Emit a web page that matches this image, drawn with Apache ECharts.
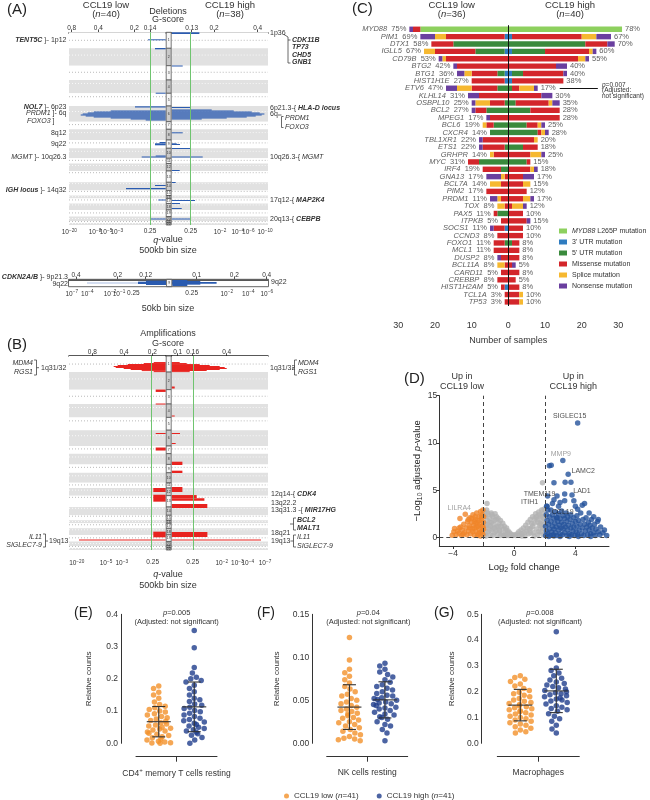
<!DOCTYPE html>
<html>
<head>
<meta charset="utf-8">
<title>CCL19 figure</title>
<script src="https://cdn.jsdelivr.net/npm/echarts@6.0.0/dist/echarts.min.js"></script>
<style>
html,body{margin:0;padding:0;background:#fff;}
#chart{width:650px;height:800px;}
</style>
</head>
<body>
<div id="chart"></div>
<script>
// ======================= DATA =======================
// ---- Panels A/B: genome layout in 500kb bins ----
const chromBins = [160,174,143,133,127,157,76,107,83,100,52,75,113,82,50,30,50,65,65,45,20,20];
const centroFrac = [0.50,0.39,0.46,0.26,0.27,0.35,0.38,0.31,0.35,0.30,0.40,0.27,0.15,0.16,0.18,0.40,0.29,0.22,0.45,0.44,0.27,0.29];

// Deletions (A): [bin start, bin end, score]
const delLow = [[70,80,17.7],[157,170,10.7],[604,614,10],[740,752,30.7],
  [782,792,55],[792,802,72],[802,812,78],[812,822,83],[822,832,85],[832,842,80],[842,852,72],[852,862,55],[862,872,35],[872,882,20],
  [1097,1107,6],[1110,1130,10.7],[1232,1242,10],[1242,1252,24],[1527,1537,10.7],[1557,1570,39.7],[1672,1682,7.4],[1862,1872,15.7]];
const delHigh = [[0,17,27.7],[332,342,11],[747,757,19],
  [772,782,40],[782,792,62],[792,802,80],[802,812,88],[812,822,92.7],[822,832,90],[832,842,84],[842,852,75],[852,862,55],[862,872,30],
  [1000,1010,11],[1110,1120,5],[1117,1127,8.3],[1157,1167,18.5],[1242,1252,31],[1377,1387,8],[1497,1507,4],
  [1677,1687,23.3],[1707,1717,8.3],[1757,1767,10],[1862,1872,18.3]];
// 50kb CDKN2A/B sub panel
const cdknLow = [[4,17,20],[7,14,28]];
const cdknLowFaint = [[9.5,12.5,79]];
const cdknHigh = [[2,20,15],[5,16,28],[8,13,44.3]];
// Amplifications (B)
const ampLow = [[60,70,12],[70,80,22],[80,90,38],[90,100,48],[100,110,52],[110,120,50],[120,130,42],[130,140,35],[140,150,24],[150,160,12],
  [333,357,10],[472,482,10],[765,775,10],[909,939,10],[1311,1351,12.4],[1378,1447,12.4],[1745,1801,12.4],[1823,1833,86.7]];
const ampHigh = [[60,70,8],[70,80,15],[80,90,28],[90,100,38],[100,110,48],[110,120,53],[120,130,55],[130,140,48],[140,150,35],[150,160,18],
  [303,323,3],[591,601,3],[765,775,8.3],[864,874,4],[1050,1083,10.7],[1139,1162,10.7],[1301,1351,10.7],
  [1381,1413,25],[1413,1437,32.7],[1470,1510,35.6],[1748,1798,35.7],[1823,1833,89.3]];

// Tick labels [position, label]
const aTopLow = [[94,'0.8'],[67.4,'0.4'],[31.4,'0.2'],[15.7,'0.14']];
const aTopHigh = [[20,'0.13'],[42.3,'0.2'],[86,'0.4']];
const aBotLow = [[96.4,'10^-20'],[70.7,'10^-8'],[59.7,'10^-5'],[49,'10^-3'],[15.7,'0.25']];
const aBotHigh = [[19,'0.25'],[48.3,'10^-2'],[66,'10^-4'],[76.6,'10^-6'],[93.3,'10^-10']];
const sTopLow = [[90,'0.4'],[48.3,'0.2'],[20.3,'0.12']];
const sTopHigh = [[24.4,'0.1'],[62,'0.2'],[94.4,'0.4']];
const sBotLow = [[94.3,'10^-7'],[78.7,'10^-4'],[56,'10^-2'],[47,'10^-1'],[32.7,'0.25']];
const sBotHigh = [[19.4,'0.25'],[54.4,'10^-2'],[76,'10^-4'],[94.4,'10^-6']];
const bTopLow = [[73.4,'0.8'],[41.7,'0.4'],[13.4,'0.2']];
const bTopHigh = [[6,'0.1'],[21,'0.16'],[55,'0.4']];
const bBotLow = [[89,'10^-20'],[76.7,'10^-8'],[59.7,'10^-5'],[44,'10^-3'],[13,'0.25']];
const bBotHigh = [[21,'0.25'],[50,'10^-2'],[65.6,'10^-3'],[76,'10^-4'],[93.3,'10^-7']];
const qThresh = {aLow:15, aHigh:19, bLow:14, bHigh:21.6};

// ---- Panel C: mutations ----
const cGenes = ['MYD88','PIM1','DTX1','IGLL5','CD79B','BTG2','BTG1','HIST1H1E','ETV6','KLHL14','OSBPL10','BCL2','MPEG1','BCL6','CXCR4','TBL1XR1','ETS1','GRHPR','MYC','IRF4','GNA13','BCL7A','PIM2','PRDM1','TOX','PAX5','ITPKB','SOCS1','CCND3','FOXO1','MCL1','DUSP2','BCL11A','CARD11','CREBBP','HIST1H2AM','TCL1A','TP53'];
const lowPct  = [75,69,58,67,53,42,36,27,47,31,25,27,17,19,14,22,22,14,31,19,17,14,17,11,8,11,5,11,8,11,11,8,8,5,8,5,3,3];
const highPct = [78,67,70,60,55,40,40,38,17,30,35,28,28,25,28,20,18,25,15,18,17,15,12,17,12,10,15,10,10,8,8,8,5,8,5,8,10,10];
const lowL265P    = [24,0,0,0,0,0,0,0,0,0,0,0,0,0,0,0,0,0,0,0,0,0,0,0,0,0,0,0,0,0,0,0,0,0,0,0,0,0];
const low3UTR     = [0,1,0,1,0,0,1,1,0,0,0,0,0,0,0,0,0,0,0,0,0,0,0,0,0,0,0,1,0,0,0,0,0,0,0,1,0,0];
const low5UTR     = [0,0,15,8,0,0,2,0,3,0,1,6,0,4,5,0,1,0,8,2,0,0,0,0,0,3,0,0,0,1,0,0,0,0,0,0,0,0];
const lowMissense = [2,16,6,11,17,14,7,9,7,8,4,3,5,2,0,7,6,4,3,5,1,2,6,2,1,1,2,3,3,3,4,2,1,2,3,1,1,1];
const lowSplice   = [0,3,0,3,1,0,2,0,4,0,4,0,0,1,0,0,0,1,0,0,1,3,0,1,2,0,0,0,0,0,0,0,2,0,0,0,0,0];
const lowNonsense = [1,4,0,0,1,1,2,0,3,3,1,1,1,0,0,1,1,0,0,0,4,0,0,2,0,0,0,1,0,0,0,1,0,0,0,0,0,0];
const highL265P    = [31,0,0,0,0,0,0,0,0,0,0,0,0,0,0,0,0,0,0,0,0,0,0,0,0,0,0,0,0,0,0,0,0,0,0,0,0,0];
const high3UTR     = [0,1,0,1,0,0,1,1,0,0,0,0,0,0,0,0,0,0,0,0,0,0,0,0,0,0,0,0,0,0,0,0,0,0,0,0,0,0];
const high5UTR     = [0,0,21,9,0,0,3,0,1,0,2,6,0,5,8,0,4,0,5,0,0,0,0,0,0,0,0,0,0,1,0,0,0,0,0,0,0,0];
const highMissense = [0,19,6,12,19,13,11,14,2,9,9,8,14,3,1,7,4,6,1,6,4,4,5,4,1,4,5,4,4,2,3,3,1,3,2,3,3,3];
const highSplice   = [0,4,0,1,2,0,0,0,4,0,1,0,0,1,1,1,0,3,0,1,0,2,0,2,3,0,0,0,0,0,0,0,0,0,0,0,1,1];
const highNonsense = [0,4,2,1,1,3,1,0,1,3,2,0,0,1,1,0,0,1,0,1,3,0,0,1,1,0,1,0,0,0,0,0,1,0,0,0,0,0];
const mutTypes = ['MYD88 L265P mutation',"3' UTR mutation","5' UTR mutation",'Missense mutation','Splice mutation','Nonsense mutation'];
const pAnnotGene = 'ETV6';

// ---- Panel D: volcano (log2 FC, -log10 adj p) ----
const volcLow = [[-4.05,0.25],[-3.95,0.6],[-3.9,0.95],[-3.8,0.3],[-3.7,0.7],[-3.6,0.45],[-3.6,1.0],[-3.55,2.0],[-3.5,1.1],[-3.45,0.2],[-3.4,0.8],[-3.35,0.35],[-3.3,1.4],[-3.25,0.5],[-3.2,2.45],[-3.15,1.0],[-3.1,0.3],[-3.05,1.7],[-3.0,0.7],[-3.0,1.9],[-2.95,1.25],[-2.9,2.1],[-2.9,1.0],[-2.85,0.4],[-2.8,1.6],[-2.8,2.0],[-2.75,0.9],[-2.7,2.4],[-2.7,0.6],[-2.65,1.3],[-2.6,0.25],[-2.6,1.0],[-2.6,1.7],[-2.55,1.9],[-2.55,2.2],[-2.5,0.65],[-2.5,1.5],[-2.45,2.6],[-2.45,1.1],[-2.4,1.6],[-2.4,0.2],[-2.35,0.4],[-2.35,1.2],[-2.3,2.2],[-2.3,0.9],[-2.3,1.8],[-2.25,1.4],[-2.25,0.5],[-2.2,2.75],[-2.2,0.15],[-2.15,1.9],[-2.15,0.6],[-2.15,2.2],[-2.1,2.4],[-2.1,1.2],[-2.1,0.7],[-2.05,2.9],[-2.05,0.35],[-2.05,1.2],[-2.02,1.6],[-2.0,2.2],[-2.0,0.9]];
const volcMid = [[-1.95,2.7],[-1.95,1.5],[-1.9,0.4],[-1.9,2.2],[-1.85,1.0],[-1.8,2.9],[-1.78,3.6],[-1.75,1.8],[-1.7,0.6],[-1.7,2.4],[-1.65,1.3],[-1.6,2.0],[-1.55,0.3],[-1.5,2.6],[-1.5,1.6],[-1.45,0.9],[-1.4,2.2],[-1.35,1.4],[-1.3,0.5],[-1.25,2.5],[-1.2,1.9],[-1.15,1.1],[-1.1,0.3],[-1.05,2.0],[-1.0,1.5],[-0.95,0.7],[-0.9,1.8],[-0.85,1.2],[-0.8,0.4],[-0.75,1.5],[-0.7,0.9],[-0.65,1.2],[-0.6,0.3],[-0.55,0.8],[-0.5,1.0],[-0.45,0.5],[-0.4,0.7],[-0.35,0.2],[-0.3,0.5],[-0.2,0.35],[-0.1,0.2],[0.0,0.3],[0.1,0.2],[0.2,0.4],[0.3,0.6],[0.35,0.25],[0.45,0.8],[0.5,0.4],[0.6,1.0],[0.65,0.5],[0.75,1.3],[0.8,0.7],[0.9,1.6],[0.95,0.4],[1.05,1.9],[1.1,1.0],[1.2,2.2],[1.25,0.5],[1.3,1.5],[1.4,2.5],[1.45,0.9],[1.5,1.9],[1.55,0.3],[1.6,2.7],[1.65,1.3],[1.7,2.2],[1.75,0.6],[1.8,2.9],[1.8,1.7],[1.85,5.8],[1.85,1.0],[1.9,2.5],[1.9,0.3],[1.95,2.0],[1.95,3.0],[-1.6,0.8],[-1.3,1.0],[-1.0,0.8],[1.0,0.9],[1.35,2.0],[1.7,1.5],
  [-1.85,0.15],[-1.75,2.6],[-1.6,1.6],[-1.45,2.4],[-1.4,0.2],[-1.2,0.7],[-1.15,2.2],[-0.9,0.2],[-0.7,0.2],[-0.5,0.2],[0.5,0.15],[0.7,0.15],[0.85,1.0],[1.15,1.5],[1.3,0.15],[1.45,2.2],[1.55,1.6],[1.65,2.4],[1.75,1.1],[1.85,2.2],[1.6,0.6],[-1.8,1.3],[-1.55,1.2],[-1.05,1.2],[-1.3,1.8],[1.95,1.4],[1.05,0.5],[1.2,1.2]];
const volcHigh = [[2.05,0.2],[2.05,1.2],[2.1,2.4],[2.1,0.7],[2.15,1.8],[2.15,3.3],[2.2,0.4],[2.2,2.9],[2.25,1.4],[2.3,0.9],[2.3,2.2],[2.35,0.2],[2.4,1.7],[2.4,2.9],[2.45,0.6],[2.5,1.2],[2.5,2.4],[2.55,0.3],[2.6,2.0],[2.6,0.9],[2.65,1.5],[2.7,2.7],[2.7,0.5],[2.75,1.1],[2.8,2.1],[2.8,0.2],[2.85,1.7],[2.9,0.8],[2.9,2.5],[2.95,1.3],[3.0,0.4],[3.0,2.0],[3.05,1.0],[3.1,2.8],[3.1,1.6],[3.15,0.3],[3.2,2.3],[3.2,0.9],[3.25,1.4],[3.3,0.5],[3.3,2.0],[3.35,1.1],[3.4,2.6],[3.45,0.2],[3.45,1.7],[3.5,0.8],[3.5,2.2],[3.55,1.3],[3.6,0.4],[3.65,1.9],[3.7,1.0],[3.7,2.4],[3.75,0.3],[3.8,1.5],[3.85,0.7],[3.9,2.1],[3.9,1.1],[3.95,0.2],[4.0,1.7],[4.05,0.6],[4.1,2.3],[4.1,1.2],[4.15,0.3],[4.2,1.8],[4.25,0.8],[4.3,1.4],[4.35,2.6],[4.4,0.4],[4.45,1.0],[4.5,1.9],[4.55,0.2],[4.6,1.4],[4.65,0.7],[4.7,2.1],[4.75,1.1],[4.8,0.3],[4.85,1.6],[4.9,0.8],[4.95,1.3],[5.0,0.4],[5.05,1.9],[5.1,1.0],[5.2,0.5],[5.25,1.4],[5.3,0.2],[5.35,0.9],[5.45,1.7],[5.5,0.6],[5.6,0.3],[5.65,1.1],[5.8,0.5],[5.9,0.8],[6.05,0.2],
  [4.15,12.1],[3.18,8.15],[2.3,7.6],[2.42,7.65],[3.53,6.7],[2.6,5.8],[3.33,5.85],[3.71,5.85],[3.78,4.5],[3.3,4.6],[3.3,3.9],[3.0,3.7],[2.8,4.4],[2.6,4.0],[2.18,4.4],[2.12,3.3],[2.78,2.1],[4.45,3.4],[4.15,3.0],[4.0,3.3],[4.6,3.6],[4.9,2.6],[5.2,2.2],[5.5,1.9],[3.9,3.9],[2.5,3.6],[2.9,3.3],[2.25,0.1],[2.6,0.15],[3.0,0.1],[3.6,0.1],[4.2,0.1],[5.0,0.1]];
const volcLabelGenes = ['SIGLEC15','MMP9','LAMC2','LAD1','TMEM119','ITIH1','CCL19','LILRA4'];
const volcLabelX = [4.15,3.18,3.53,3.78,2.18,2.12,2.78,-3.2];
const volcLabelY = [12.1,8.15,6.7,4.5,4.4,3.3,2.1,2.45];

// ---- Panels E/F/G: relative counts ----
const cellTypes = ['CD4{sup|+} memory T cells resting','NK cells resting','Macrophages'];
const pTexts = ['0.005','0.04','0.008'];
const eLow = [0.178,0.170,0.158,0.150,0.140,0.128,0.120,0.115,0.110,0.105,0.100,0.097,0.092,0.088,0.083,0.079,0.075,0.071,0.068,0.064,0.060,0.057,0.054,0.050,0.047,0.044,0.041,0.038,0.035,0.031,0.028,0.024,0.020,0.017,0.013,0.010,0.006,0.004,0.002,0.001,0.000];
const eHigh = [0.350,0.296,0.235,0.218,0.205,0.200,0.195,0.190,0.180,0.170,0.160,0.150,0.140,0.135,0.130,0.122,0.118,0.112,0.108,0.102,0.098,0.093,0.088,0.083,0.078,0.074,0.070,0.066,0.062,0.058,0.054,0.050,0.046,0.042,0.038,0.034,0.030,0.025,0.018,0.010,0.000];
const fLow = [0.123,0.097,0.086,0.082,0.078,0.074,0.070,0.066,0.063,0.060,0.057,0.055,0.052,0.050,0.048,0.046,0.044,0.042,0.040,0.038,0.037,0.035,0.034,0.032,0.030,0.029,0.027,0.025,0.024,0.022,0.020,0.018,0.016,0.014,0.012,0.010,0.008,0.006,0.005,0.004,0.003];
const fHigh = [0.093,0.090,0.086,0.083,0.080,0.077,0.074,0.071,0.068,0.066,0.064,0.062,0.060,0.058,0.056,0.055,0.053,0.052,0.051,0.050,0.048,0.047,0.046,0.045,0.044,0.042,0.041,0.040,0.038,0.036,0.034,0.033,0.031,0.030,0.028,0.025,0.022,0.020,0.016,0.012,0.003];
const gLow = [0.262,0.255,0.248,0.240,0.230,0.222,0.212,0.205,0.198,0.192,0.186,0.180,0.174,0.168,0.163,0.158,0.154,0.150,0.146,0.142,0.138,0.134,0.130,0.126,0.122,0.118,0.114,0.110,0.105,0.100,0.095,0.090,0.085,0.080,0.075,0.070,0.064,0.058,0.052,0.045,0.040];
const gHigh = [0.432,0.342,0.332,0.322,0.292,0.282,0.272,0.262,0.252,0.245,0.238,0.232,0.226,0.220,0.215,0.210,0.205,0.200,0.196,0.192,0.188,0.184,0.180,0.176,0.172,0.168,0.164,0.158,0.152,0.146,0.140,0.135,0.130,0.124,0.115,0.105,0.095,0.085,0.070,0.055,0.040];
const meanLow = [0.067,0.0421,0.148], sdLow = [0.047,0.026,0.061];
const meanHigh = [0.113,0.0505,0.203], sdHigh = [0.077,0.021,0.084];
const yMaxes = [0.4,0.15,0.5], yIntervals = [0.1,0.05,0.1];
const groupNames = ['CCL19 low (n=41)','CCL19 high (n=41)'];

// ======================= BUILD =======================
const FONT = '"Liberation Sans", Arial, Helvetica, sans-serif';
const ORANGE = '#f3912b', NAVY = '#1f3d8c';
const CLEAR = 'rgba(0,0,0,0)';
const mutColors = ['#8dd05e','#2f7cc0','#3a8a3c','#d3262b','#f6b830','#6a3f9f'];

function richL(fs, color) {
  color = color || '#333';
  return {
    i: {fontStyle:'italic', fontSize:fs, color:color, fontFamily:FONT},
    b: {fontStyle:'italic', fontWeight:'bold', fontSize:fs, color:color, fontFamily:FONT},
    sup: {fontSize:fs*0.72, color:color, fontFamily:FONT, padding:[0,0,fs*0.6,0]},
    s: {fontSize:fs*0.72, color:color, fontFamily:FONT, padding:[fs*0.6,0,0,0]}
  };
}
function richG(fs, color) {
  color = color || '#333';
  return {
    i: {fontStyle:'italic', fontSize:fs, fill:color, color:color, fontFamily:FONT},
    b: {fontStyle:'italic', fontWeight:'bold', fontSize:fs, fill:color, color:color, fontFamily:FONT},
    sup: {fontSize:fs*0.72, fill:color, color:color, fontFamily:FONT, padding:[0,0,fs*0.6,0]},
    s: {fontSize:fs*0.72, fill:color, color:color, fontFamily:FONT, padding:[fs*0.6,0,0,0]}
  };
}
const graphics = [];
function T(x, y, text, o) {
  o = o || {};
  const fs = o.fs || 7, color = o.color || '#333';
  graphics.push({type:'text', x:x, y:y, silent:true, z:100,
    style:{text:text, fontFamily:FONT, fontSize:fs, fill:color, align:o.align||'left', verticalAlign:'middle', fontWeight:o.fw||'normal', rich:richG(fs,color)}});
}
function P(points, o) {
  o = o || {};
  graphics.push({type:'polyline', silent:true, z:100, shape:{points:points}, style:{stroke:o.color||'#444', lineWidth:o.w||0.8, fill:null}});
}

const grids = [], xAxes = [], yAxes = [], series = [];
function addGrid(g){ g.containLabel = false; g.outerBoundsMode = 'none'; grids.push(g); return grids.length-1; }
function addX(a){ xAxes.push(a); return xAxes.length-1; }
function addY(a){ yAxes.push(a); return yAxes.length-1; }

function fmtTick(s){ const m = s.match(/^10\^(.+)$/); return m ? '10{sup|' + m[1].replace('-','\u2212') + '}' : s; }
function tickAxis(gi, pos, maxU, inv, ticks, showLine, margin, fs) {
  const vals = ticks.map(t=>t[0]);
  return {type:'value', gridIndex:gi, position:pos, min:0, max:maxU, inverse:inv,
    axisLine:{show:showLine, onZero:false, lineStyle:{color:'#222', width:1.5}},
    axisTick:{show:showLine, customValues:vals, length:2.5, lineStyle:{color:'#222', width:0.8}},
    axisLabel:{show:true, customValues:vals, margin:margin, fontSize:fs, color:'#333', fontFamily:FONT, rich:richL(fs,'#333'),
      showMinLabel:true, showMaxLabel:true,
      formatter:function(v){ const t = ticks.find(tt=>Math.abs(tt[0]-v)<1e-6); return t ? fmtTick(t[1]) : ''; }},
    splitLine:{show:false}};
}
function bandItem(params, api) {
  const cs = params.coordSys;
  const s = api.value(0), e = api.value(1), idx = api.value(2), cf = api.value(3);
  const y0 = api.coord([0, s])[1], y1 = api.coord([0, e])[1];
  const yc = api.coord([0, s + (e-s)*cf])[1];
  const odd = idx % 2 === 1;
  return {type:'group', children:[
    {type:'rect', shape:{x:cs.x, y:y0, width:cs.width, height:y1-y0}, style:{fill: odd ? '#e1e1e1' : '#ffffff'}},
    {type:'line', shape:{x1:cs.x, y1:yc, x2:cs.x+cs.width, y2:yc}, style:{stroke: odd ? '#ffffff' : '#a8a8a8', lineWidth:0.8, lineDash:[1,2]}}
  ]};
}
function centerItem(params, api) {
  const cs = params.coordSys;
  const s = api.value(0), e = api.value(1), idx = api.value(2);
  const y0 = api.coord([0, s])[1], y1 = api.coord([0, e])[1];
  return {type:'group', children:[
    {type:'rect', shape:{x:cs.x+0.5, y:y0, width:cs.width-1, height:y1-y0}, style:{fill: idx%2===1 ? '#c9c9c9' : '#f6f6f6', stroke:'#555', lineWidth:0.8}},
    {type:'text', style:{text:String(idx+1), x:cs.x+cs.width/2, y:(y0+y1)/2, align:'center', verticalAlign:'middle', fontSize:3.5, fill:'#333', fontFamily:FONT}}
  ]};
}
function segRender(color) {
  return function(params, api) {
    const s = api.value(0), e = api.value(1), v = api.value(2);
    const a = api.coord([0, s]), b = api.coord([v, e]);
    return {type:'rect', shape:{x:Math.min(a[0],b[0]), y:a[1], width:Math.abs(b[0]-a[0]), height:Math.max(b[1]-a[1], 0.9)}, style:{fill:color}};
  };
}

const bandData = []; let acc = 0;
chromBins.forEach((n,i)=>{ bandData.push([acc, acc+n, i, centroFrac[i]]); acc += n; });
const genomeTotal = acc;

function gistic(cfg) {
  [cfg.L, cfg.R].forEach((s, k) => {
    const gi = addGrid({left:s.x0, top:cfg.top, width:s.x1-s.x0, height:cfg.height});
    const maxU = s.x1 - s.x0, inv = (k === 0);
    const xt = addX(tickAxis(gi, 'top', maxU, inv, s.topTicks, true, cfg.topMargin, 6.5));
    addX(tickAxis(gi, 'bottom', maxU, inv, s.botTicks, false, cfg.botMargin, 6.5));
    const yi = addY({type:'value', gridIndex:gi, min:0, max:cfg.yMax, inverse:true, show:false});
    if (cfg.bands) series.push({type:'custom', xAxisIndex:xt, yAxisIndex:yi, renderItem:bandItem, data:cfg.bands, silent:true, z:1});
    (s.layers || []).forEach(layer => {
      series.push({type:'custom', xAxisIndex:xt, yAxisIndex:yi, renderItem:segRender(layer.color), data:layer.data, silent:true, z:3});
    });
    if (s.green != null) {
      series.push({type:'custom', xAxisIndex:xt, yAxisIndex:yi, renderItem:function(){return null;}, data:[], silent:true, z:4,
        markLine:{silent:true, symbol:['none','none'], label:{show:false}, lineStyle:{color:'#6fc46f', width:1, type:'solid'}, data:[{xAxis:s.green}]}});
    }
  });
  const gc = addGrid({left:cfg.C.x0, top:cfg.top, width:cfg.C.x1-cfg.C.x0, height:cfg.height});
  const xc = addX({type:'value', gridIndex:gc, position:'top', min:0, max:1,
    axisLine:{show:cfg.centerLine !== false, onZero:false, lineStyle:{color:'#222', width:1.5}}, axisTick:{show:false}, axisLabel:{show:false}, splitLine:{show:false}});
  const yc = addY({type:'value', gridIndex:gc, min:0, max:cfg.yMax, inverse:true, show:false});
  series.push({type:'custom', xAxisIndex:xc, yAxisIndex:yc, renderItem:centerItem, data:cfg.centerData, silent:true, z:5});
}

// Panel A main (deletions)
gistic({top:32.3, height:192.7, yMax:genomeTotal, bands:bandData, centerData:bandData, topMargin:1, botMargin:3,
  L:{x0:69, x1:165.7, topTicks:aTopLow, botTicks:aBotLow, green:qThresh.aLow, layers:[{color:'#2a5bb0', data:delLow}]},
  C:{x0:165.7, x1:171.7},
  R:{x0:171.7, x1:268, topTicks:aTopHigh, botTicks:aBotHigh, green:qThresh.aHigh, layers:[{color:'#2a5bb0', data:delHigh}]}});
// Panel A sub (50kb)
gistic({top:279.3, height:7.4, yMax:22, bands:null, centerData:[[0,22,8]], topMargin:1, botMargin:3, centerLine:false,
  L:{x0:69, x1:166, topTicks:sTopLow, botTicks:sBotLow, green:null, layers:[{color:'#a9bde3', data:cdknLowFaint},{color:'#2a5bb0', data:cdknLow}]},
  C:{x0:166, x1:172.3},
  R:{x0:172.3, x1:268, topTicks:sTopHigh, botTicks:sBotHigh, green:null, layers:[{color:'#2a5bb0', data:cdknHigh}]}});
// Panel B (amplifications)
gistic({top:356, height:194, yMax:genomeTotal, bands:bandData, centerData:bandData, topMargin:0.5, botMargin:9,
  L:{x0:69, x1:165.7, topTicks:bTopLow, botTicks:bBotLow, green:qThresh.bLow, layers:[{color:'#e8231f', data:ampLow}]},
  C:{x0:165.7, x1:171.7},
  R:{x0:171.7, x1:268, topTicks:bTopHigh, botTicks:bBotHigh, green:qThresh.bHigh, layers:[{color:'#e8231f', data:ampHigh}]}});

// ---- Panel C ----
const lowSets = [lowL265P, low3UTR, low5UTR, lowMissense, lowSplice, lowNonsense];
const highSets = [highL265P, high3UTR, high5UTR, highMissense, highSplice, highNonsense];
const lowTotal = cGenes.map((g,i)=>lowSets.reduce((a,arr)=>a+arr[i],0));
const highTotal = cGenes.map((g,i)=>highSets.reduce((a,arr)=>a+arr[i],0));
const gC = addGrid({left:380, top:25.6, width:256.7, height:280});
const xC = addX({type:'value', gridIndex:gC, min:-35, max:35, interval:5, offset:11,
  axisLine:{onZero:false, lineStyle:{color:'#333', width:1}}, axisTick:{length:3, lineStyle:{color:'#333'}},
  axisLabel:{fontSize:9, color:'#333', margin:4, fontFamily:FONT, formatter:v=> (v % 10 === 0 ? String(Math.abs(v)) : '')},
  splitLine:{show:false}, name:'Number of samples', nameLocation:'middle', nameGap:19, nameTextStyle:{fontSize:9, color:'#333', fontFamily:FONT}});
const yC = addY({type:'category', gridIndex:gC, data:cGenes, inverse:true,
  axisLine:{show:true, onZero:true, lineStyle:{color:'#111', width:1}}, axisTick:{show:false}, axisLabel:{show:false}, splitLine:{show:false}, z:10});
mutTypes.forEach((name, t) => {
  series.push({type:'bar', name:name, stack:'mut', xAxisIndex:xC, yAxisIndex:yC, barWidth:5.4, itemStyle:{color:mutColors[t]}, data:lowSets[t].map(v=>-v), silent:true});
  series.push({type:'bar', name:name, stack:'mut', xAxisIndex:xC, yAxisIndex:yC, barWidth:5.4, itemStyle:{color:mutColors[t]}, data:highSets[t].map(v=>v), silent:true});
});
series.push({type:'scatter', name:'lowLabels', xAxisIndex:xC, yAxisIndex:yC, symbolSize:1, itemStyle:{color:CLEAR}, silent:true, z:20,
  data:cGenes.map((g,i)=>[-lowTotal[i], i]),
  label:{show:true, position:'left', distance:2.5, fontSize:7.5, color:'#333', fontFamily:FONT, rich:richL(7.5,'#333'),
    formatter:p=>'{i|' + cGenes[p.dataIndex] + '}  ' + lowPct[p.dataIndex] + '%'}});
series.push({type:'scatter', name:'highLabels', xAxisIndex:xC, yAxisIndex:yC, symbolSize:1, itemStyle:{color:CLEAR}, silent:true, z:20,
  data:cGenes.map((g,i)=>[highTotal[i], i]),
  label:{show:true, position:'right', distance:2.5, fontSize:7.5, color:'#333', fontFamily:FONT,
    formatter:p=>highPct[p.dataIndex] + '%'},
  markLine:{silent:true, symbol:['none','arrow'], symbolSize:[0,6], label:{show:false}, lineStyle:{color:'#111', width:1, type:'solid'},
    data:[[{coord:[14, cGenes.indexOf(pAnnotGene)]},{coord:[24.4, cGenes.indexOf(pAnnotGene)]}]]}});

// ---- Panel D ----
const gD = addGrid({left:439.3, top:395.7, width:169.7, height:150.3});
const xD = addX({type:'value', gridIndex:gD, min:-4.9, max:6.2,
  axisLine:{onZero:false, lineStyle:{color:'#333'}}, axisTick:{customValues:[-4,0,4], length:3, lineStyle:{color:'#333'}},
  axisLabel:{customValues:[-4,0,4], fontSize:8.5, color:'#333', margin:3, fontFamily:FONT, formatter:v=> (v<0 ? '\u2212' + Math.abs(v) : String(v))},
  splitLine:{show:false}, name:'Log{s|2} fold change', nameLocation:'middle', nameGap:15,
  nameTextStyle:{fontSize:9.5, color:'#222', fontFamily:FONT, rich:richL(9.5,'#222')}});
const yD = addY({type:'value', gridIndex:gD, min:-0.9, max:15,
  axisLine:{onZero:false, lineStyle:{color:'#333'}}, axisTick:{customValues:[0,5,10,15], length:3, lineStyle:{color:'#333'}},
  axisLabel:{customValues:[0,5,10,15], fontSize:8.5, color:'#333', margin:2, fontFamily:FONT},
  splitLine:{show:false}, name:'\u2212Log{s|10} adjusted {i|p}-value', nameLocation:'middle', nameGap:14, nameRotate:90,
  nameTextStyle:{fontSize:9.5, color:'#222', fontFamily:FONT, rich:richL(9.5,'#222')}});
series.push({type:'scatter', xAxisIndex:xD, yAxisIndex:yD, symbolSize:5.5, itemStyle:{color:'#b3b3b3'}, data:volcMid, silent:true,
  markLine:{silent:true, symbol:['none','none'], label:{show:false}, lineStyle:{color:'#444', width:1, type:[4,3]},
    data:[{xAxis:-2},{xAxis:2},{yAxis:0}]}});
series.push({type:'scatter', xAxisIndex:xD, yAxisIndex:yD, symbolSize:5.5, itemStyle:{color:'#f0862a'}, data:volcLow, silent:true});
series.push({type:'scatter', xAxisIndex:xD, yAxisIndex:yD, symbolSize:5.5, itemStyle:{color:'#24529b'}, data:volcHigh, silent:true});
const volcLabelStyle = {SIGLEC15:[-8,-7,'#222'], MMP9:[-2,-6,'#888'], LAMC2:[15,-3,'#222'], LAD1:[10,-4,'#222'],
  TMEM119:[-8,-2,'#222'], ITIH1:[-17,-4,'#222'], CCL19:[6,-6,'#222'], LILRA4:[-6,-6,'#888']};
series.push({type:'scatter', xAxisIndex:xD, yAxisIndex:yD, symbolSize:1, itemStyle:{color:CLEAR}, silent:true, z:20,
  data:volcLabelGenes.map((g,i)=>({value:[volcLabelX[i], volcLabelY[i]], name:g,
    label:{show:true, position:'inside', offset:[volcLabelStyle[g][0], volcLabelStyle[g][1]], color:volcLabelStyle[g][2], fontSize:7, fontFamily:FONT, formatter:'{b}'}}))});

// ---- Panels E/F/G ----
const panelVals = [[eLow,eHigh],[fLow,fHigh],[gLow,gHigh]];
const yAxisXs = [121, 312.3, 481.7], axLefts = [136, 326.7, 497.3], axWidths = [81, 81, 82], nameGaps = [28.5, 32, 26];
function errRender(params, api) {
  const i = api.value(0), m = api.value(1), sd = api.value(2);
  const c = api.coord([i, m]), hi = api.coord([i, m+sd]), lo = api.coord([i, m-sd]);
  const st = {stroke:'#333', lineWidth:1.1};
  return {type:'group', children:[
    {type:'line', shape:{x1:c[0]-12, y1:c[1], x2:c[0]+12, y2:c[1]}, style:st},
    {type:'line', shape:{x1:c[0], y1:hi[1], x2:c[0], y2:lo[1]}, style:st},
    {type:'line', shape:{x1:c[0]-6.5, y1:hi[1], x2:c[0]+6.5, y2:hi[1]}, style:st},
    {type:'line', shape:{x1:c[0]-6.5, y1:lo[1], x2:c[0]+6.5, y2:lo[1]}, style:st}
  ]};
}
[0,1,2].forEach(p => {
  const gP = addGrid({left:axLefts[p]+5, top:614.3, width:axWidths[p]-10, height:129});
  const dec = yIntervals[p] < 0.1 ? 2 : 1;
  const yP = addY({type:'value', gridIndex:gP, min:0, max:yMaxes[p], interval:yIntervals[p], offset:(axLefts[p]+5)-yAxisXs[p],
    axisLine:{show:true, onZero:false, lineStyle:{color:'#333'}}, axisTick:{length:4, lineStyle:{color:'#333'}},
    axisLabel:{fontSize:8.5, color:'#333', margin:3, fontFamily:FONT, formatter:v=>v.toFixed(dec)}, splitLine:{show:false},
    name:'Relative counts', nameLocation:'middle', nameRotate:90, nameGap:nameGaps[p], nameTextStyle:{fontSize:8, color:'#333', fontFamily:FONT}});
  const xP = addX({type:'category', gridIndex:gP, data:['low','high'], show:false, jitter:24, jitterOverlap:false, jitterMargin:0.3});
  series.push({type:'scatter', name:groupNames[0], xAxisIndex:xP, yAxisIndex:yP, symbolSize:5.5, itemStyle:{color:ORANGE}, silent:true,
    data:panelVals[p][0].map(v=>[0, v])});
  series.push({type:'scatter', name:groupNames[1], xAxisIndex:xP, yAxisIndex:yP, symbolSize:5.5, itemStyle:{color:NAVY}, silent:true,
    data:panelVals[p][1].map(v=>[1, v])});
  series.push({type:'custom', xAxisIndex:xP, yAxisIndex:yP, renderItem:errRender, silent:true, z:10,
    data:[[0, meanLow[p], sdLow[p]], [1, meanHigh[p], sdHigh[p]]]});
  const gA = addGrid({left:axLefts[p], top:614.3, width:axWidths[p], height:129});
  addX({type:'category', gridIndex:gA, data:[cellTypes[p]], offset:13.4,
    axisLine:{show:true, onZero:false, lineStyle:{color:'#333'}}, axisTick:{show:true, alignWithLabel:true, length:5, lineStyle:{color:'#333'}},
    axisLabel:{fontSize:8.5, color:'#333', margin:11, fontFamily:FONT, rich:richL(8.5,'#333')}});
  addY({type:'value', gridIndex:gA, min:0, max:1, show:false});
});

// ======================= TEXT ANNOTATIONS =======================
// Panel A
T(7, 9.5, '(A)', {fs:15, color:'#222'});
T(106, 5.5, 'CCL19 low', {fs:9.5, align:'center'}); T(106, 14.5, '({i|n}=40)', {fs:9.5, align:'center'});
T(168, 11.5, 'Deletions', {fs:9, align:'center'}); T(168, 20, 'G-score', {fs:9, align:'center'});
T(230, 5.5, 'CCL19 high', {fs:9.5, align:'center'}); T(230, 14.5, '({i|n}=38)', {fs:9.5, align:'center'});
T(66.5, 40, '{b|TENT5C} }- 1p12', {align:'right'});
T(66.5, 107, '{b|NOL7} }- 6p23', {align:'right'});
T(66.5, 113, '{i|PRDM1} ]- 6q', {align:'right'});
T(54.5, 121, '{i|FOXO3} ]', {align:'right'});
T(66.5, 133, '8q12', {align:'right'});
T(66.5, 144, '9q22', {align:'right'});
T(66.5, 157, '{i|MGMT} }- 10q26.3', {align:'right'});
T(66.5, 190, '{b|IGH locus} }- 14q32', {align:'right'});
T(270, 33.5, '1p36'); P([[284,34.5],[288,37],[288,63],[290.5,63]]); P([[288,40],[290.5,40]]);
T(292, 40, '{b|CDK11B}'); T(292, 47.5, '{b|TP73}'); T(292, 55, '{b|CHD5}'); T(292, 62.5, '{b|GNB1}');
T(270, 108.3, '6p21.3-{ {b|HLA-D locus}');
T(270, 114, '6q'); P([[283.5,116.5],[281.5,116.5],[281.5,127.5],[283.5,127.5]]); P([[278,115],[281.5,115]]);
T(285, 118.3, '{i|PRDM1}'); T(285, 126.7, '{i|FOXO3}');
T(270, 157, '10q26.3-{ {i|MGMT}');
T(270, 200, '17q12-{ {b|MAP2K4}');
T(270, 219.3, '20q13-{ {b|CEBPB}');
T(168, 240, '{i|q}-value', {fs:9, align:'center'});
T(168, 251, '500kb bin size', {fs:9, align:'center'});
graphics.push({type:'rect', silent:true, z:90, shape:{x:68.5, y:279.3, width:200, height:7.4}, style:{fill:null, stroke:'#666', lineWidth:1}});
T(68, 277.5, '{b|CDKN2A/B} }- 9p21.3', {align:'right'});
T(68, 284.5, '9q22', {align:'right'});
T(271, 282.5, '9q22');
T(168, 308.3, '50kb bin size', {fs:9, align:'center'});
// Panel B
T(7, 345, '(B)', {fs:15, color:'#222'});
T(168, 334, 'Amplifications', {fs:9, align:'center'}); T(168, 343.5, 'G-score', {fs:9, align:'center'});
T(33, 363.5, '{i|MDM4}', {align:'right'}); T(33, 372, '{i|RGS1}', {align:'right'});
P([[34,360],[36.5,360],[36.5,375],[34,375]]); P([[36.5,367.7],[39,367.7]]);
T(41, 368, '1q31/32');
T(270, 368, '1q31/32');
P([[297,360],[294.5,360],[294.5,375],[297,375]]); P([[292,367.7],[294.5,367.7]]);
T(298, 363.5, '{i|MDM4}'); T(298, 372, '{i|RGS1}');
T(271, 494.3, '12q14-{ {b|CDK4}');
T(271, 502.7, '13q22.2');
T(271, 510, '13q31.3 -{ {b|MIR17HG}');
P([[296,518],[293.5,518],[293.5,530],[296,530]]); P([[290,524],[293.5,524]]);
T(297, 520.5, '{b|BCL2}'); T(297, 528.5, '{b|MALT1}');
T(271, 533.3, '18q21');
T(271, 541.3, '19q13');
P([[296,535],[293.5,535],[293.5,547],[296,547]]); P([[290.5,541],[293.5,541]]);
T(297, 537.5, '{i|IL11}'); T(297, 546.5, '{i|SIGLEC7-9}');
T(42, 536.7, '{i|IL11}', {align:'right'}); T(42, 544.7, '{i|SIGLEC7-9}', {align:'right'});
P([[43,534],[45.5,534],[45.5,547],[43,547]]); P([[45.5,541],[48,541]]);
T(49, 541, '19q13');
T(168, 574.3, '{i|q}-value', {fs:9, align:'center'});
T(168, 585.5, '500kb bin size', {fs:9, align:'center'});
// Panel C
T(352, 9, '(C)', {fs:15, color:'#222'});
T(451.7, 5.5, 'CCL19 low', {fs:9.5, align:'center'}); T(451.7, 14, '({i|n}=36)', {fs:9.5, align:'center'});
T(570, 5.5, 'CCL19 high', {fs:9.5, align:'center'}); T(570, 14, '({i|n}=40)', {fs:9.5, align:'center'});
T(602, 85, '{i|p}=0.007', {fs:6.5}); T(602, 90.7, '(Adjusted:', {fs:6.5}); T(602, 96.7, 'not significant)', {fs:6.5});
// Panel D
T(404, 378.5, '(D)', {fs:15, color:'#222'});
T(462, 376.7, 'Up in', {fs:9, align:'center'}); T(462, 386.3, 'CCL19 low', {fs:9, align:'center'});
T(573.3, 376.7, 'Up in', {fs:9, align:'center'}); T(573.3, 386.3, 'CCL19 high', {fs:9, align:'center'});
// Panels E/F/G
T(74, 613.5, '(E)', {fs:14, color:'#222'}); T(257, 613.5, '(F)', {fs:14, color:'#222'}); T(434, 613.5, '(G)', {fs:14, color:'#222'});
const pCenters = [176.7, 368.3, 540];
[0,1,2].forEach(p => {
  T(pCenters[p], 613.3, '{i|p}=' + pTexts[p], {fs:7.5, align:'center'});
  T(pCenters[p], 621.7, '(Adjusted: not significant)', {fs:7.5, align:'center'});
});

const option = {
  animation:false,
  backgroundColor:'#fff',
  textStyle:{fontFamily:FONT},
  grid:grids, xAxis:xAxes, yAxis:yAxes, series:series,
  legend:[
    {data:mutTypes, orient:'vertical', left:554, top:222, itemWidth:8, itemHeight:5, itemGap:3, icon:'rect', selectedMode:false,
      textStyle:{fontSize:7, color:'#333', fontFamily:FONT, lineHeight:8, rich:richL(7,'#333')},
      formatter:n=> n.indexOf('MYD88') === 0 ? '{i|MYD88} L265P mutation' : n},
    {data:groupNames, orient:'horizontal', left:279, top:787, itemWidth:5, itemHeight:5, itemGap:18, icon:'circle', selectedMode:false,
      textStyle:{fontSize:8, color:'#333', fontFamily:FONT, rich:richL(8,'#333')},
      formatter:n=> n.replace('n=', '{i|n}=')}
  ],
  graphic:{elements:graphics}
};
const chart = echarts.init(document.getElementById('chart'), null, {renderer:'canvas'});
chart.setOption(option);
</script>
</body>
</html>
